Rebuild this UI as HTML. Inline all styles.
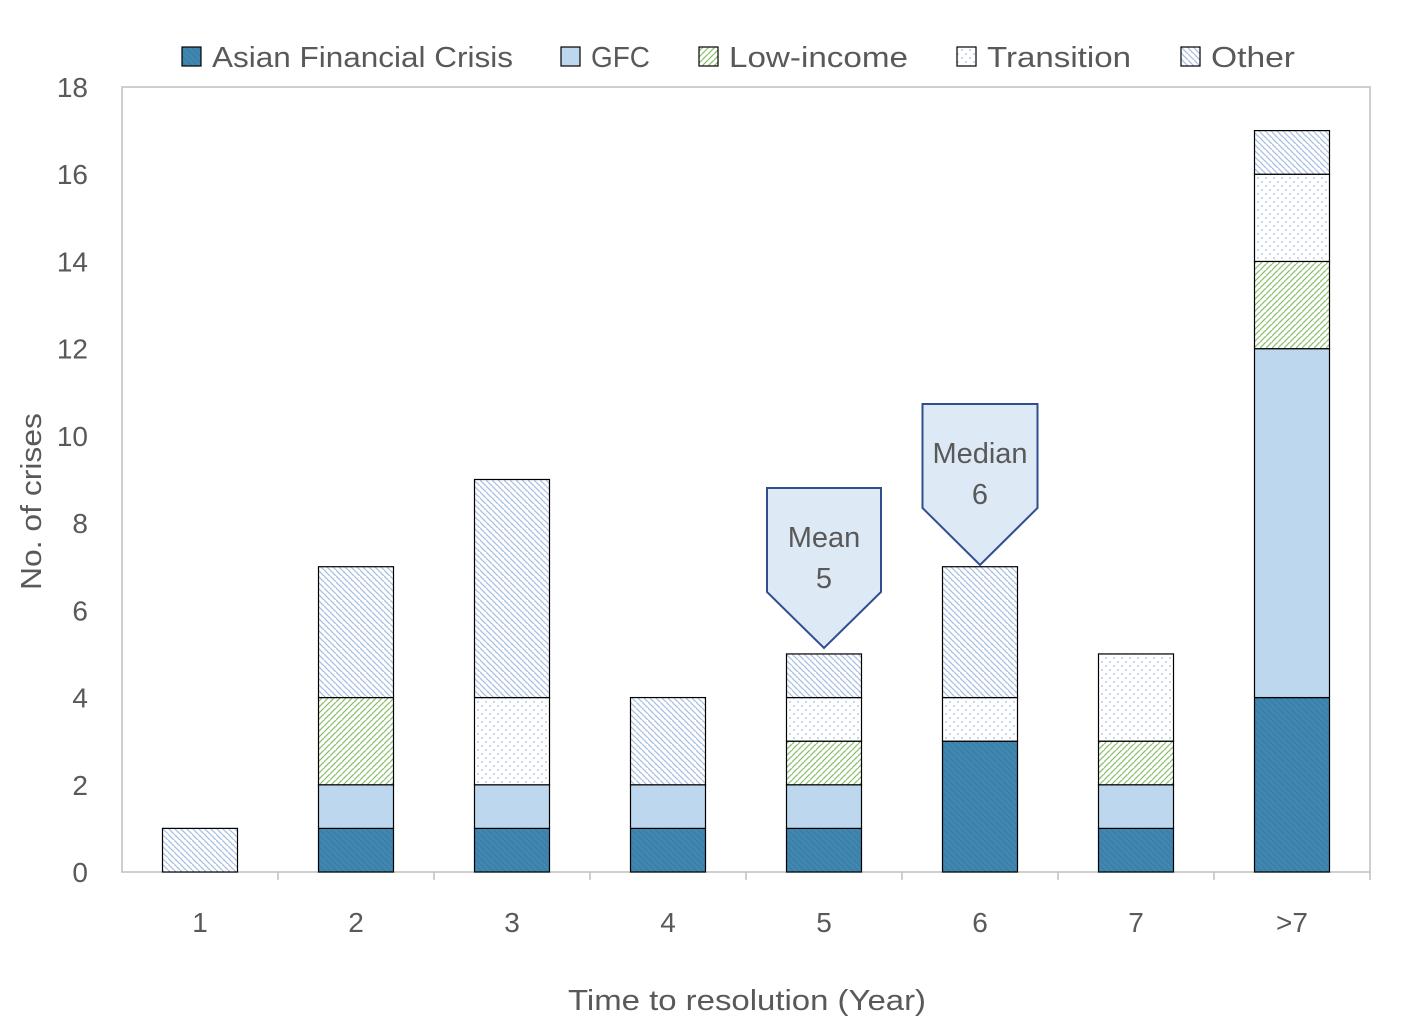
<!DOCTYPE html>
<html><head><meta charset="utf-8"><style>
body{margin:0;background:#fff;font-family:"Liberation Sans","DejaVu Sans",sans-serif;}
</style></head><body>
<svg id="c" width="1420" height="1031" xmlns="http://www.w3.org/2000/svg">
<defs>
<pattern id="pOther" width="6" height="6" patternUnits="userSpaceOnUse"><rect width="6" height="6" fill="#fff"/><path d="M-1,-1 L7,7 M-4,2 L2,8 M4,-4 L10,2" stroke="#a9bfe3" stroke-width="1.3"/></pattern>
<pattern id="pLow" width="6" height="6" patternUnits="userSpaceOnUse"><rect width="6" height="6" fill="#fff"/><path d="M-1,7 L7,-1 M-4,4 L2,-2 M4,10 L10,4" stroke="#8fbf70" stroke-width="1.3"/></pattern>
<pattern id="pTrans" width="8" height="8" patternUnits="userSpaceOnUse"><rect width="8" height="8" fill="#fff"/><rect x="1" y="1" width="2" height="2" fill="#c4dbef"/><rect x="5" y="5" width="2" height="2" fill="#c4dbef"/></pattern>
<pattern id="pAFC" width="6" height="6" patternUnits="userSpaceOnUse"><rect width="6" height="6" fill="#3f86b0"/><path d="M-1,-1 L7,7" stroke="#3a7aa2" stroke-width="1"/></pattern>
</defs>
<g id="g"></g>
</svg>
<script>
const categories=["1","2","3","4","5","6","7",">7"];
const afc=[0,1,1,1,1,3,1,4];
const gfc=[0,1,1,1,1,0,1,8];
const lowIncome=[0,2,0,0,1,0,1,2];
const transition=[0,0,2,0,1,1,2,2];
const other=[1,3,5,2,1,3,0,1];
const yTicks=[0,2,4,6,8,10,12,14,16,18];
const seriesNames=["Asian Financial Crisis","GFC","Low-income","Transition","Other"];
const seriesData=[afc,gfc,lowIncome,transition,other];
const fills=["url(#pAFC)","#bdd7ee","url(#pLow)","url(#pTrans)","url(#pOther)"];
const X0=122,X1=1370,Y0=872,Y1=87,YMAX=18;
const bw=(X1-X0)/categories.length;
const y=v=>Y0-(v/YMAX)*(Y0-Y1);
const xc=i=>X0+bw*(i+0.5);
const NS="http://www.w3.org/2000/svg";
const g=document.getElementById('g');
function mk(t,a,txt){const e=document.createElementNS(NS,t);for(const k in a)e.setAttribute(k,a[k]);if(txt!=null)e.textContent=txt;g.appendChild(e);return e;}
let e=mk('rect',{x:X0,y:Y1,width:X1-X0,height:Y0-Y1,fill:'none',stroke:'#bfbfbf','stroke-width':1.5});

yTicks.forEach(t=>{const l=mk('text',{x:88,y:y(t)+10,'text-anchor':'end','font-size':28,fill:'#595959'},t);
});
categories.forEach((c,i)=>{
 const tk=mk('line',{x1:X0+bw*(i+1),x2:X0+bw*(i+1),y1:Y0,y2:Y0+8,stroke:'#bfbfbf','stroke-width':1.5});
 
 const l=mk('text',{x:xc(i),y:932,'text-anchor':'middle','font-size':28,fill:'#595959'},c);
 
 let acc=0;
 seriesData.forEach((s,k)=>{const v=s[i];if(v>0){
  const r=mk('rect',{x:xc(i)-37.5,y:y(acc+v),width:75,height:y(acc)-y(acc+v),fill:fills[k],stroke:'#000','stroke-width':1.2});
  
  }acc+=v;});
});
function callout(cx,top,bottom,tip,w,l1,l2,name){
 const p=mk('path',{d:`M${cx-w/2},${top} H${cx+w/2} V${bottom} L${cx},${tip} L${cx-w/2},${bottom} Z`,fill:'#dde9f5',stroke:'#2f4d8f','stroke-width':2});
 
 const t1=mk('text',{x:cx,y:top+59,'text-anchor':'middle','font-size':29,fill:'#595959'},l1);
 
 const t2=mk('text',{x:cx,y:top+100,'text-anchor':'middle','font-size':29,fill:'#595959'},l2);
 
}
callout(xc(4),488,592,648,114,'Mean','5','mean-callout');
callout(xc(5),404,508,565,115,'Median','6','median-callout');
e=mk('text',{x:568,y:1010,'font-size':29,fill:'#595959',textLength:358,lengthAdjust:'spacingAndGlyphs'},'Time to resolution (Year)');

e=mk('text',{x:-590,y:0,'font-size':29,fill:'#595959',transform:'translate(41,0) rotate(-90)',textLength:177,lengthAdjust:'spacingAndGlyphs'},'No. of crises');

const lx=[182,561,699,957,1181];
const lw=[301,59,179,144,84];
seriesNames.forEach((n,k)=>{
 const r=mk('rect',{x:lx[k],y:47,width:19,height:19,fill:fills[k],stroke:'#000','stroke-width':1.2});
 
 const t=mk('text',{x:lx[k]+30,y:67,'font-size':29,fill:'#595959',textLength:lw[k],lengthAdjust:'spacingAndGlyphs'},n);
 
});
</script>
</body></html>
